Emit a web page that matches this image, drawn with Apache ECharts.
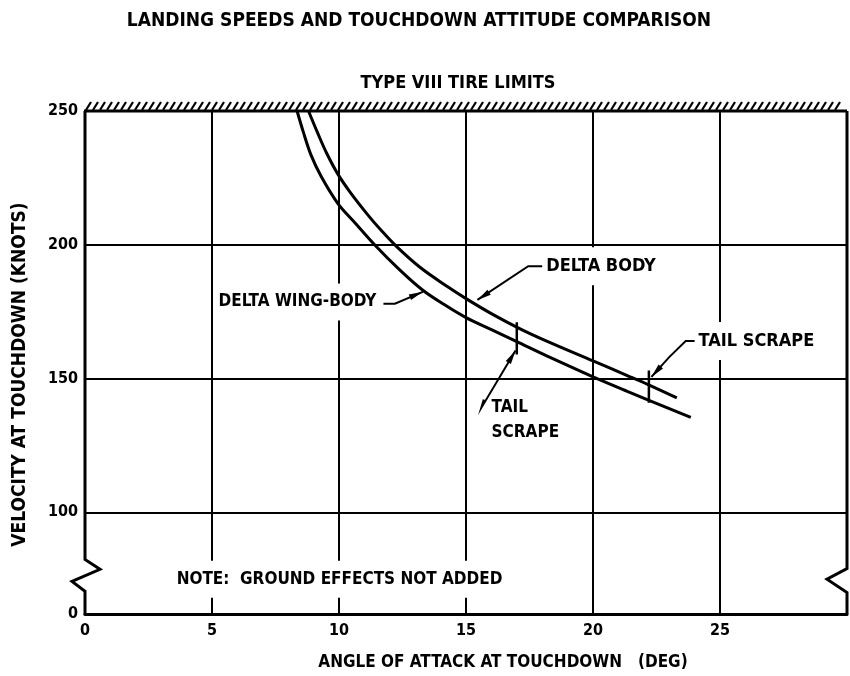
<!DOCTYPE html>
<html>
<head>
<meta charset="utf-8">
<script src="https://cdn.jsdelivr.net/npm/echarts@6/dist/echarts.min.js"></script>
<style>
  html, body { margin: 0; padding: 0; background: #fff; }
  #chart { width: 850px; height: 676px; }
</style>
</head>
<body>
<div id="chart"></div>
<script>
// curve readings (angle of attack in deg, velocity in knots)
var wingBodyDeg = [8.35, 8.6, 8.9, 9.3, 9.95, 10.6, 11.4, 12.4, 13.3, 14.25, 15.0, 16.0, 17.0, 18.2, 19.5, 20.0, 21.35, 22.3, 23.85];
var wingBodyKt  = [250, 242, 233.5, 225.5, 215.5, 208.5, 200, 190.5, 183, 177, 172.8, 168.3, 163.8, 158.4, 152.8, 150.6, 145.2, 141.5, 135.5];

var bodyDeg = [8.8, 9.15, 9.5, 9.95, 10.45, 11.15, 11.65, 12.25, 13.2, 14.25, 15.05, 16.05, 17.15, 18.2, 20.0, 21.35, 22.15, 23.3];
var bodyKt  = [250, 242, 234.5, 226.5, 219.5, 211, 205.5, 199.5, 191.5, 184.5, 179.6, 174, 168.5, 163.9, 156.6, 151.1, 147.8, 142.8];

// tail scrape marks
var scrapeDeg  = [17.0, 22.2];
var scrapeLow  = [159, 141];
var scrapeHigh = [171, 153];

var gridKt = [100, 150, 200];
var kticks = [100, 150, 200, 250];

var F = '"DejaVu Sans Condensed", "Liberation Sans Narrow", sans-serif';

var chart = echarts.init(document.getElementById('chart'));

function blackLine(w) { return { color: '#000', width: w, type: 'solid' }; }

var series = [
    {
        name: 'DELTA WING-BODY',
        type: 'line',
        data: wingBodyDeg.map(function (d, i) { return [d, wingBodyKt[i]]; }),
        smooth: 0.35,
        showSymbol: false,
        lineStyle: blackLine(3),
        z: 5,
        markLine: {
            silent: true,
            symbol: 'none',
            label: { show: false },
            lineStyle: blackLine(2),
            data: gridKt.map(function (v) { return { yAxis: v }; })
        }
    },
    {
        name: 'DELTA BODY',
        type: 'line',
        data: bodyDeg.map(function (d, i) { return [d, bodyKt[i]]; }),
        smooth: 0.35,
        showSymbol: false,
        lineStyle: blackLine(3),
        z: 5
    }
];
scrapeDeg.forEach(function (d, i) {
    series.push({
        type: 'line',
        data: [[d, scrapeLow[i]], [d, scrapeHigh[i]]],
        showSymbol: false,
        lineStyle: blackLine(2.5),
        z: 6
    });
});

chart.setOption({
    backgroundColor: '#fff',
    animation: false,
    title: [
        {
            text: 'LANDING SPEEDS AND TOUCHDOWN ATTITUDE COMPARISON',
            left: 414, top: 7, textAlign: 'center',
            textStyle: { fontFamily: F, fontWeight: 'bold', fontSize: 19, color: '#000' }
        },
        {
            text: 'TYPE VIII TIRE LIMITS',
            left: 453, top: 69, textAlign: 'center',
            textStyle: { fontFamily: F, fontWeight: 'bold', fontSize: 18, color: '#000' }
        }
    ],
    grid: { left: 85, right: 3, top: 111, bottom: 58 },
    xAxis: {
        type: 'value',
        min: 0, max: 30, interval: 5,
        name: 'ANGLE OF ATTACK AT TOUCHDOWN   (DEG)',
        nameLocation: 'middle',
        nameGap: 40,
        nameTextStyle: { fontFamily: F, fontWeight: 'bold', fontSize: 17, color: '#000', padding: [0, 0, 0, 74] },
        axisLine: { show: true, lineStyle: blackLine(3) },
        axisTick: { show: false },
        axisLabel: {
            margin: 9, color: '#000', fontFamily: F, fontWeight: 'bold', fontSize: 16,
            formatter: function (v) { return v === 30 ? '' : String(v); }
        },
        splitLine: { show: true, showMinLine: false, showMaxLine: false, lineStyle: blackLine(2) }
    },
    yAxis: {
        type: 'value',
        min: 62, max: 250, interval: 2,
        name: 'VELOCITY AT TOUCHDOWN (KNOTS)',
        nameLocation: 'middle',
        nameGap: 55,
        nameTextStyle: { fontFamily: F, fontWeight: 'bold', fontSize: 19, color: '#000', padding: [0, 24, 0, 0] },
        axisLine: { show: false },
        axisTick: { show: false },
        splitLine: { show: false },
        axisLabel: {
            margin: 7, color: '#000', fontFamily: F, fontWeight: 'bold', fontSize: 16,
            formatter: function (v) {
                if (v === 62) return '0';   // broken axis: bottom is zero
                return kticks.indexOf(v) >= 0 ? String(v) : '';
            }
        }
    },
    series: series
});

// ---- decorations: hatched tire limit, broken borders, labels with leaders
function px(d, k) { return chart.convertToPixel({ gridIndex: 0 }, [d, k]); }

var tl = px(0, 250), br = px(30, 62);
var x0 = tl[0], yTop = tl[1], x1 = br[0], yBot = br[1];
var g = [];

function seg(a, b, w) {
    g.push({ type: 'line', z: 50, shape: { x1: a[0], y1: a[1], x2: b[0], y2: b[1] }, style: { stroke: '#000', lineWidth: w } });
}
function poly(pts, w) {
    g.push({ type: 'polyline', z: 50, shape: { points: pts }, style: { stroke: '#000', lineWidth: w, fill: null, lineJoin: 'miter' } });
}
function arrow(pts) {
    var tip = pts[pts.length - 1], prev = pts[pts.length - 2];
    var dx = tip[0] - prev[0], dy = tip[1] - prev[1], L = Math.sqrt(dx * dx + dy * dy);
    var ux = dx / L, uy = dy / L, nx = -uy, ny = ux;
    var bx = tip[0] - ux * 14, by = tip[1] - uy * 14;
    g.push({ type: 'polygon', z: 51, shape: { points: [tip, [bx + nx * 3, by + ny * 3], [bx - nx * 3, by - ny * 3]] }, style: { fill: '#000' } });
}
function label(txt, p, size) {
    g.push({
        type: 'text', z: 40,
        style: {
            text: txt, x: p[0], y: p[1], fill: '#000', align: 'left', verticalAlign: 'middle',
            font: 'bold ' + size + 'px ' + F, lineHeight: size + 8,
            backgroundColor: '#fff', padding: [6, 4]
        }
    });
}

// tire limit line with hatching
seg([x0 - 1, yTop], [x1, yTop], 3);
for (var hx = x0 + 1; hx < x1 - 8; hx += 7) {
    seg([hx, yTop - 1], [hx + 5, yTop - 9], 2.2);
}

// left border with axis break
poly([[x0, yTop], [x0, px(0, 82.4)[1]], [x0 + 15, px(0, 78.7)[1]], [x0 - 13, px(0, 74.2)[1]], [x0, px(0, 70.5)[1]], [x0, yBot + 1]], 3);
// right border with axis break
poly([[x1, yTop], [x1, px(0, 79)[1]], [x1 - 20, px(0, 75)[1]], [x1, px(0, 70)[1]], [x1, yBot]], 3);

// labels
label('DELTA BODY', px(18.0, 192), 18);
var lb = [px(18.0, 192), px(17.45, 192), px(15.45, 179.4)];
poly(lb, 2); arrow(lb);

label('DELTA WING-BODY', px(5.1, 178.6), 17);
var lw = [px(11.75, 178), px(12.2, 178), px(13.3, 182.4)];
poly(lw, 2); arrow(lw);

label('TAIL\nSCRAPE', px(15.85, 134.5), 17);
var ls = [px(15.7, 142.2), px(15.6, 139), px(16.95, 160.5)];
poly(ls, 2); arrow(ls);

label('TAIL SCRAPE', px(24.0, 164), 18);
var lt = [px(24.0, 164), px(23.65, 164), px(23.0, 158), px(22.3, 150.6)];
poly(lt, 2); arrow(lt);

label('NOTE:  GROUND EFFECTS NOT ADDED', px(3.45, 75), 17);

chart.setOption({ graphic: { elements: g } });
</script>
</body>
</html>
